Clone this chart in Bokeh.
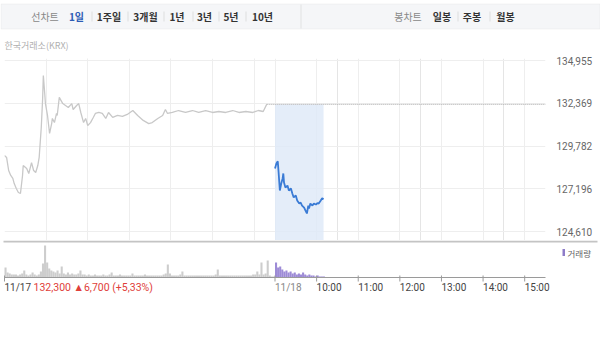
from bokeh.plotting import figure
from bokeh.models import (Range1d, FixedTicker, Grid, NumeralTickFormatter, Label, LabelSet,
                          BoxAnnotation, ColumnDataSource)
from bokeh.core.properties import value
from bokeh.layouts import column
from bokeh.embed import file_html
from bokeh.resources import INLINE

# ---------------- data ----------------
prev_close = 132300
change_text = "132,300 \u25b26,700 (+5,33%)"
source_label = "한국거래소(KRX)"
line_chart_label = "선차트"
period_options = ["1일", "1주일", "3개월", "1년", "3년", "5년", "10년"]
candle_label = "봉차트"
candle_options = ["일봉", "주봉", "월봉"]
volume_label = "거래량"

price_ticks = [124610, 127196, 129782, 132369, 134955]
time_tick_hours = [0, 6.5, 7.5, 8.5, 9.5, 10.5, 11.5, 12.5]
time_tick_labels = ["11/17", "11/18", "10:00", "11:00", "12:00", "13:00", "14:00", "15:00"]
grid_hours = [0, 1, 2, 3, 4, 5, 6, 6.5, 7.5, 8.5, 9.5, 10.5, 11.5, 12.5]

# minutes after 09:00 and price, 11/17
day1_minutes = [0, 3, 6, 9, 12, 14, 17, 20, 23, 26, 27, 32, 35, 39, 42, 45, 48, 50, 53, 55,
                56, 58, 59, 62, 65, 68, 69, 72, 75, 76, 79, 84, 88, 92, 97, 99, 104, 107, 110,
                114, 117, 120, 124, 128, 131, 136, 141, 146, 150, 156, 163, 170, 177, 185, 192,
                200, 208, 213, 221, 228, 232, 235, 242, 251, 261, 271, 280, 290, 300, 309, 319,
                329, 338, 348, 358, 366, 373, 378]
day1_prices = [129210, 129090, 128300, 128000, 127820, 127510, 127210, 126970, 126910, 128000,
               128600, 128420, 128120, 128780, 128300, 128180, 128600, 129090, 130900, 132660,
               134050, 132960, 132350, 131630, 130540, 131140, 131450, 131200, 131750, 131630,
               132720, 132350, 132230, 132110, 132350, 131990, 132230, 132350, 131810, 131200,
               131450, 131020, 131200, 131510, 131750, 131810, 131750, 131450, 131810, 131510,
               131630, 131570, 131690, 131930, 131630, 131330, 131140, 131200, 131450, 131630,
               131990, 131750, 131810, 131930, 131810, 131930, 131810, 131930, 131810, 131870,
               131810, 131930, 131810, 131870, 131810, 131930, 131870, 132300]

# minutes after 09:00 and price, 11/18
day2_minutes = [0, 2, 4, 5, 6, 7, 9, 11, 12, 13, 15, 18, 20, 23, 25, 27, 30, 32, 35, 37, 39,
                42, 44, 46, 48, 49, 51, 54, 56, 59, 61, 63, 66, 68, 70]
day2_prices = [128420, 128720, 128860, 128300, 127700, 127090, 127510, 127820, 128120, 127570,
               127270, 127390, 127090, 127210, 126910, 126670, 126790, 126490, 126300, 126360,
               126180, 126060, 125880, 125700, 126180, 126000, 126300, 126180, 126300, 126240,
               126320, 126300, 126490, 126630, 126550]

# volume per 3-minute bin (shares)
day1_volume = [10000, 5000, 4000, 3000, 3000, 3000, 2000, 3000, 4000, 7000,
               3000, 2000, 3000, 5000, 3000, 2000, 3000, 6000, 14000, 32000,
               15000, 9000, 7000, 6000, 5000, 7000, 4000, 11000, 4000, 3000,
               5000, 3000, 4000, 3000, 3000, 4000, 7000, 3000, 3000, 2000,
               3000, 2000, 2000, 3000, 2000, 2000, 2000, 3000, 2000, 2000,
               3000, 5000, 2000, 2000, 2000, 3000, 2000, 2000, 2000, 2000,
               2000, 4000, 2000, 2000, 2000, 2000, 2000, 3000, 2000, 2000,
               2000, 2000, 2000, 2000, 2000, 2000, 3000, 4000, 13000, 4000,
               2000, 2000, 2000, 2000, 3000, 6000, 2000, 2000, 2000, 2000,
               2000, 2000, 2000, 2000, 2000, 2000, 2000, 2000, 2000, 2000,
               2000, 3000, 8000, 2000, 2000, 2000, 2000, 2000, 2000, 2000,
               2000, 2000, 2000, 2000, 2000, 2000, 2000, 2000, 2000, 3000,
               3000, 6000, 3000, 15000, 3000, 4000, 17000, 2000, 1000, 1000]
day2_volume = [15000, 10000, 11000, 8000, 6000, 7000, 5000, 6000, 4000, 5000, 3000, 4000,
               3000, 5000, 3000, 2000, 3000, 2000, 2000, 1000, 2000, 1000, 1000, 1000]

# ---------------- derived ----------------
SESSION_H = 6.5
BIN_MIN = 3
t1 = [m / 60 for m in day1_minutes]
t2 = [SESSION_H + m / 60 for m in day2_minutes]
v1x = [(i * BIN_MIN + BIN_MIN / 2) / 60 for i in range(len(day1_volume))]
v2x = [SESSION_H + (i * BIN_MIN + BIN_MIN / 2) / 60 for i in range(len(day2_volume))]
bar_w = BIN_MIN / 60

# ---------------- styles / layout ----------------
KR = "Noto Sans CJK KR"
NUM = "Roboto"
GRID = "#eeeeee"
W = 600
PLOT_L, PLOT_R = 4, 545
K = (PLOT_R - PLOT_L) / (2 * SESSION_H)          # px per hour
PX_PER_WON = 60.497


def hx(px):  # canvas px -> hours (for the full-width panels)
    return (px - PLOT_L) / K


# ---- header panel (full-frame, pixel coordinates) ----
H_A = 52
a = figure(width=W, height=H_A, x_range=Range1d(0, W), y_range=Range1d(H_A, 0),
           output_backend="svg", toolbar_location=None, x_axis_location=None,
           y_axis_location=None, title=None, min_border=0, frame_align=False)
a.outline_line_color = None
a.grid.visible = False
a.add_layout(BoxAnnotation(left=0.5, right=599.5, top=3.5, bottom=28.5, fill_color="#f5f6f8",
                           fill_alpha=1, line_color="#dcdcdc", line_width=1))
a.add_layout(BoxAnnotation(left=300, right=301, top=4, bottom=28, fill_color="#e2e2e2",
                           fill_alpha=1, line_color=None))


def top_text(txt, cx, color, bold):
    a.add_layout(Label(x=cx, y=16, text=txt, text_align="center", text_baseline="middle",
                       text_font=KR, text_font_size="10px", text_color=color,
                       text_font_style="bold" if bold else "normal"))


top_text(line_chart_label, 44.5, "#888888", False)
period_cx = [76, 108.5, 145, 176.5, 204, 230.5, 262]
for i, (txt, cx) in enumerate(zip(period_options, period_cx)):
    top_text(txt, cx, "#2c5bb5" if i == 0 else "#333333", True)
top_text(candle_label, 407.5, "#888888", False)
for txt, cx in zip(candle_options, [441.5, 471.5, 505]):
    top_text(txt, cx, "#333333", True)
for sx in [91, 127, 163, 192, 218, 245, 457, 489]:
    a.add_layout(BoxAnnotation(left=sx, right=sx + 1, top=11, bottom=21, fill_color="#dddddd",
                               fill_alpha=1, line_color=None))
a.add_layout(Label(x=4, y=45, text=source_label, text_baseline="middle", text_font=KR,
                   text_font_size="9px", text_color="#b0b0b0"))

# ---- price panel ----
TOP_B = 6
y_end = price_ticks[-1] + 2 * PX_PER_WON
y_start = y_end - 182 * PX_PER_WON
p = figure(width=W, height=188, x_range=Range1d(0, 2 * SESSION_H), y_range=Range1d(y_start, y_end),
           output_backend="svg", toolbar_location=None, x_axis_location=None,
           y_axis_location="right", title=None, frame_align=False,
           min_border_left=PLOT_L, min_border_right=W - PLOT_R, min_border_top=TOP_B,
           min_border_bottom=0)
p.outline_line_color = None
ax = p.yaxis[0]
ax.ticker = FixedTicker(ticks=price_ticks)
ax.formatter = NumeralTickFormatter(format="0,0")
ax.axis_line_color = None
ax.major_tick_line_color = None
ax.minor_tick_line_color = None
ax.major_label_standoff = 5
ax.major_label_text_font = NUM
ax.major_label_text_font_size = "10px"
ax.major_label_text_color = "#666666"
p.ygrid.ticker = FixedTicker(ticks=price_ticks)
p.ygrid.grid_line_color = GRID
p.add_layout(Grid(dimension=0, ticker=FixedTicker(ticks=grid_hours), grid_line_color=GRID))

p.quad(left=[t2[0]], right=[t2[-1]], bottom=[y_start], top=[prev_close],
       fill_color="#dde8f7", fill_alpha=0.8, line_color=None)
p.line(t1, day1_prices, line_color="#c8c8c8", line_width=1.3)
p.line([t1[-1], 2 * SESSION_H], [prev_close, prev_close], line_color="#a8a8a8",
       line_width=1, line_dash="1 1")
p.line(t2, day2_prices, line_color="#3a7bd5", line_width=1.8)

# ---- volume + time axis panel (full-frame) ----
H_C = 101
BASE = 37          # px from panel top to the volume baseline
VPP = 1000         # shares per pixel
c = figure(width=W, height=H_C, x_range=Range1d(hx(0), hx(W)),
           y_range=Range1d(-(H_C - BASE) * VPP, BASE * VPP),
           output_backend="svg", toolbar_location=None, x_axis_location=None,
           y_axis_location=None, title=None, min_border=0, frame_align=False)
c.outline_line_color = None
c.grid.visible = False
# separator line under the price panel
c.add_layout(BoxAnnotation(left=hx(3), right=hx(597), top=BASE * VPP, bottom=(BASE - 2) * VPP,
                           fill_color="#c4c4c4", fill_alpha=1, line_color=None))
c.vbar(x=v1x, top=day1_volume, width=bar_w, fill_color="#cdcdcd", line_color=None)
c.vbar(x=v2x, top=day2_volume, width=bar_w, fill_color="#9d8bd6", line_color=None)
# time axis
c.segment(x0=[0], x1=[2 * SESSION_H], y0=[0], y1=[0], line_color="#9a9a9a", line_width=1)
c.segment(x0=time_tick_hours, x1=time_tick_hours, y0=[-4 * VPP] * len(time_tick_hours),
          y1=[2 * VPP] * len(time_tick_hours), line_color="#9a9a9a", line_width=1)
label_colors = ["#444444", "#888888"] + ["#444444"] * (len(time_tick_labels) - 2)
src = ColumnDataSource(dict(x=time_tick_hours, y=[-10 * VPP] * len(time_tick_hours),
                            text=time_tick_labels, color=label_colors))
c.add_layout(LabelSet(x="x", y="y", text="text", source=src, text_align="left",
                      text_baseline="middle", text_font=value(NUM), text_font_size="10px",
                      text_color="color"))
c.add_layout(Label(x=hx(33), y=-10 * VPP, text=change_text, text_baseline="middle",
                   text_font=NUM, text_font_size="10.5px", text_color="#e0403a"))
c.add_layout(BoxAnnotation(left=hx(562), right=hx(564.5), bottom=21.5 * VPP, top=28.5 * VPP,
                           fill_color="#8e7cc8", fill_alpha=1, line_color=None))
c.add_layout(Label(x=hx(567), y=25 * VPP, text=volume_label, text_baseline="middle",
                   text_font=KR, text_font_size="8.5px", text_color="#666666"))

layout = column(a, p, c, spacing=0)
open("out.html", "w").write(file_html(layout, INLINE))
